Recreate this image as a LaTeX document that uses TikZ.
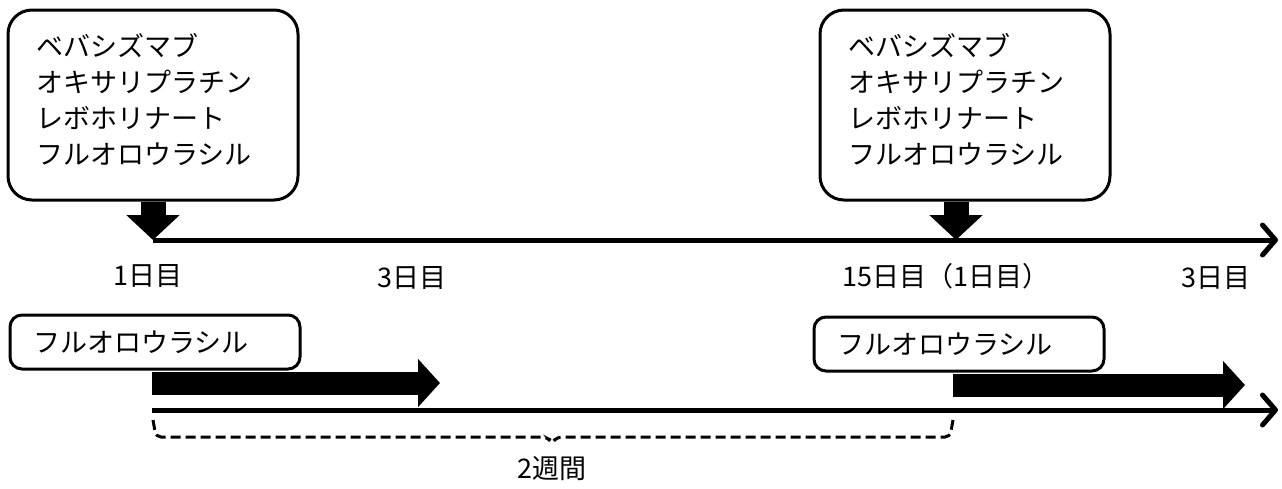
\documentclass[tikz,border=0pt]{standalone}
\usepackage{fontspec}
\setmainfont{Noto Sans CJK JP}
\usetikzlibrary{positioning,arrows.meta,calc}

\begin{document}
\begin{tikzpicture}[x=1pt,y=-1pt,
	jp/.style={font=\fontsize{27}{36}\selectfont},
	drugbox/.style={jp, draw, line width=3pt, rounded corners=24pt, align=left, text width=233pt, inner xsep=28.5pt, minimum height=190pt},
	fubox/.style={jp, draw, line width=3pt, rounded corners=12pt, align=left, text width=244pt, inner xsep=23pt, minimum height=54pt},
	timeline/.style={line width=5pt, -{Straight Barb[length=13pt,width=30pt,line width=5pt,round]}},
	dropdown/.style={line width=25pt, -{Triangle[length=25pt,width=52pt]}},
	dose/.style={line width=23pt, -{Triangle[length=22pt,width=47pt]}},
	span/.style={line width=3pt, dashed, dash pattern=on 10pt off 5pt, rounded corners=5pt}]
	\useasboundingbox (0,0) rectangle (1282,488);
	% drug boxes
	\node (box1) at (153,105) [drugbox] {ベバシズマブ\\オキサリプラチン\\レボホリナート\\フルオロウラシル\rule[-12pt]{0pt}{0pt}};
	\node (box2) at (965,105) [drugbox] {ベバシズマブ\\オキサリプラチン\\レボホリナート\\フルオロウラシル\rule[-12pt]{0pt}{0pt}};
	\coordinate (t0) at (153,240);
	\coordinate (t1) at (1278,240);
	\coordinate (d15) at (956,240);
	\draw [dropdown] (box1.south) -- (t0);
	\draw [dropdown] (d15 |- box2.south) -- (d15);
	\draw [timeline] (t0) -- (t1);
	% days
	\node (day1) at (148,276) [jp] {1日目};
	\node (day3) at (412,278) [jp] {3日目};
	\node (day15) at (946,276) [jp] {15日目（1日目）};
	\node (day3b) at (1216,278) [jp] {3日目};
	% infusion
	\node (fu1) at (155,342) [fubox] {フルオロウラシル};
	\node (fu2) at (959,344) [fubox] {フルオロウラシル};
	\coordinate (p0) at (152,383);
	\coordinate (e0) at (440,383);
	\coordinate (p1) at (953,385);
	\coordinate (e1) at (1245,385);
	\draw [dose] (p0) -- (e0);
	\draw [dose] (p1) -- (e1);
	\coordinate (s0) at (152,410);
	\coordinate (s1) at (1278,410);
	\draw [timeline] (s0) -- (s1);
	% two weeks
	\coordinate (b0) at (153,420);
	\coordinate (b1) at (953,420);
	\coordinate (bm) at (552,443);
	\draw [span] (b0) -- ++(3,17) -- ($(bm)+(-5,-6)$) -- (bm) -- ($(bm)+(5,-6)$) -- ($(b1)+(-3,17)$) -- (b1);
	\node (weeks) [jp, below=10pt of bm] {2週間};
\end{tikzpicture}
\end{document}
